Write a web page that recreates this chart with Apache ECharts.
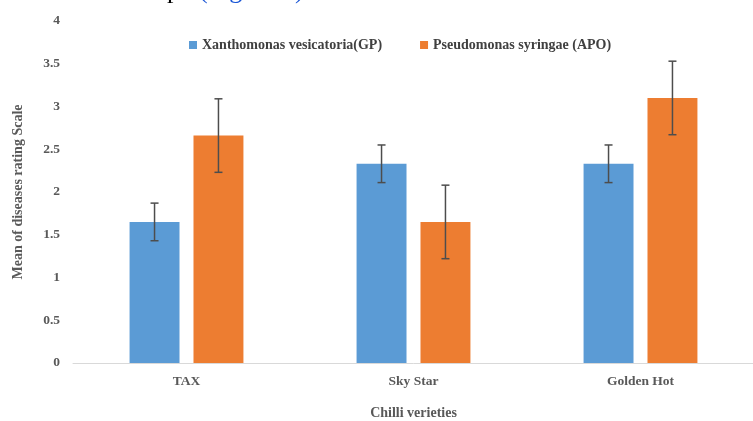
<!DOCTYPE html>
<html>
<head>
<meta charset="utf-8">
<script src="https://cdn.jsdelivr.net/npm/echarts@6/dist/echarts.min.js"></script>
<style>html,body{margin:0;padding:0;background:#fff}#c{width:753px;height:421px}</style>
</head>
<body>
<div id="c"></div>
<script>
var categories = ['TAX', 'Sky Star', 'Golden Hot'];
var seriesNames = ['Xanthomonas vesicatoria(GP)', 'Pseudomonas syringae (APO)'];
var xanthoValues = [1.65, 2.33, 2.33];
var xanthoErrors = [0.22, 0.22, 0.22];
var pseudoValues = [2.66, 1.65, 3.10];
var pseudoErrors = [0.43, 0.43, 0.43];
var yTicks = [0, 0.5, 1, 1.5, 2, 2.5, 3, 3.5, 4];

var BAR_W = 0.22, BAR_GAP = 0.28;
var labelFont = '"Liberation Serif", "DejaVu Serif", serif';

function errSeries(vals, errs, sign, name) {
  var data = vals.map(function (v, i) { return [i, v, errs[i]]; });
  return {
    type: 'custom',
    name: name + ' err',
    z: 5,
    silent: true,
    data: data,
    renderItem: function (params, api) {
      var idx = api.value(0), v = api.value(1), e = api.value(2);
      var band = api.size([1, 0])[0];
      var c = api.coord([idx, v]);
      var total = 2 * BAR_W + BAR_W * BAR_GAP;
      var off = (-total / 2 + BAR_W / 2) * band * sign;
      var x = c[0] + off;
      var yHi = api.coord([idx, v + e])[1];
      var yLo = api.coord([idx, v - e])[1];
      var cap = 4;
      var st = { stroke: '#4d4d4d', lineWidth: 1.5 };
      return {
        type: 'group',
        children: [
          { type: 'line', shape: { x1: x, y1: yHi, x2: x, y2: yLo }, style: st },
          { type: 'line', shape: { x1: x - cap, y1: yHi, x2: x + cap, y2: yHi }, style: st },
          { type: 'line', shape: { x1: x - cap, y1: yLo, x2: x + cap, y2: yLo }, style: st }
        ]
      };
    }
  };
}

var chart = echarts.init(document.getElementById('c'), null, { renderer: 'canvas' });
chart.setOption({
  backgroundColor: '#ffffff',
  animation: false,
  graphic: [
    {
      type: 'text', x: 180, y: -22,
      style: { text: 'shown in the Group', font: '26px "Liberation Serif", serif', fill: '#000', align: 'right', verticalAlign: 'top' }
    },
    {
      type: 'text', x: 199, y: -22,
      style: { text: '(Figure 3)', font: '26px "Liberation Serif", serif', fill: '#1a56d6', align: 'left', verticalAlign: 'top' }
    }
  ],
  legend: {
    top: 33,
    left: 184,
    itemWidth: 8, itemHeight: 8, itemGap: 38,
    icon: 'rect',
    textStyle: { fontFamily: labelFont, fontWeight: 'bold', fontSize: 14, color: '#404040' },
    data: seriesNames
  },
  grid: { left: 73, right: -1, top: 21, bottom: 58, containLabel: false, outerBoundsMode: 'none' },
  xAxis: {
    type: 'category',
    data: categories,
    name: 'Chilli verieties',
    nameLocation: 'middle',
    nameGap: 43,
    nameTextStyle: { fontFamily: labelFont, fontWeight: 'bold', fontSize: 14, color: '#595959' },
    axisLine: { lineStyle: { color: '#d9d9d9', width: 1 } },
    axisTick: { show: false },
    axisLabel: { fontFamily: labelFont, fontWeight: 'bold', fontSize: 13.5, color: '#595959', margin: 12 }
  },
  yAxis: {
    type: 'value',
    min: yTicks[0], max: yTicks[yTicks.length - 1], interval: 0.5,
    name: 'Mean of diseases rating Scale',
    nameLocation: 'middle',
    nameGap: 48,
    nameTextStyle: { fontFamily: labelFont, fontWeight: 'bold', fontSize: 14, color: '#595959' },
    axisLine: { show: false },
    axisTick: { show: false },
    splitLine: { show: false },
    axisLabel: { fontFamily: labelFont, fontWeight: 'bold', fontSize: 13.5, color: '#595959', margin: 13 }
  },
  series: [
    {
      name: seriesNames[0], type: 'bar', data: xanthoValues,
      barWidth: (BAR_W * 100) + '%', barGap: (BAR_GAP * 100) + '%',
      itemStyle: { color: '#5b9bd5' }
    },
    {
      name: seriesNames[1], type: 'bar', data: pseudoValues,
      barWidth: (BAR_W * 100) + '%', barGap: (BAR_GAP * 100) + '%',
      itemStyle: { color: '#ed7d31' }
    },
    errSeries(xanthoValues, xanthoErrors, 1, seriesNames[0]),
    errSeries(pseudoValues, pseudoErrors, -1, seriesNames[1])
  ]
});
</script>
</body>
</html>
